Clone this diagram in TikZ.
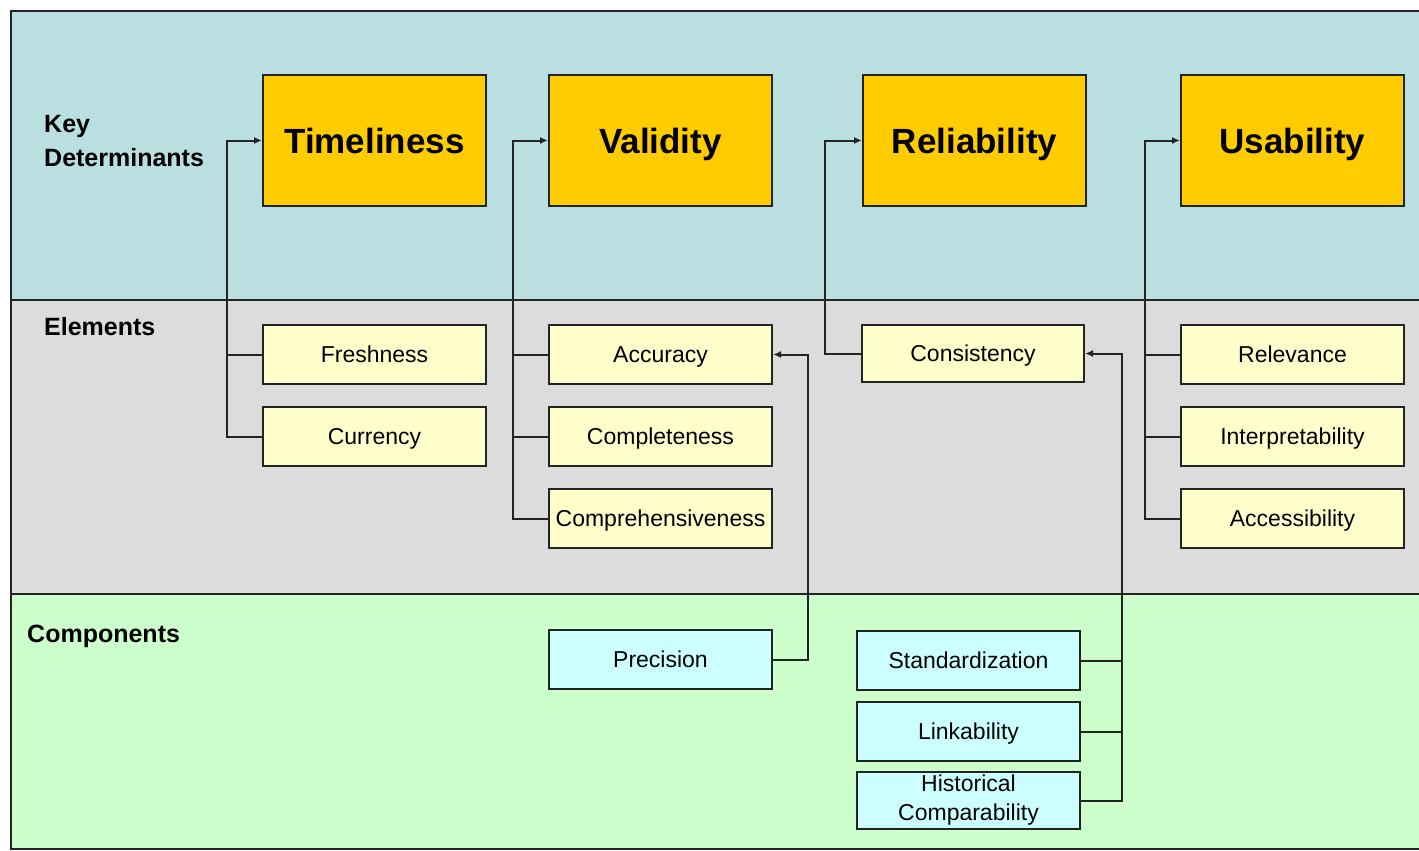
\documentclass[tikz,border=0pt]{standalone}
\usepackage{fontspec}
\setmainfont{Liberation Sans}
\usetikzlibrary{positioning,arrows.meta}

\definecolor{keyband}{RGB}{185,223,225}
\definecolor{elemband}{RGB}{220,220,220}
\definecolor{compband}{RGB}{204,255,204}
\definecolor{keyfill}{RGB}{255,204,0}
\definecolor{elemfill}{RGB}{255,255,204}
\definecolor{compfill}{RGB}{204,255,255}
\definecolor{linegray}{RGB}{35,35,35}

\begin{document}
\begin{tikzpicture}[
    x=1pt, y=-1pt,
    node distance=21pt,
    keybox/.style={rectangle, draw=linegray, line width=2pt, fill=keyfill, minimum width=223pt, minimum height=131pt, text height=25pt, text depth=0pt, font=\fontsize{35}{40}\selectfont\bfseries},
    elembox/.style={rectangle, draw=linegray, line width=2pt, fill=elemfill, minimum width=223pt, minimum height=59pt, inner sep=0pt, text height=16.5pt, text depth=0pt, font=\fontsize{23}{29}\selectfont},
    compbox/.style={elembox, fill=compfill},
    bandlabel/.style={anchor=north west, inner sep=0pt, align=left, font=\fontsize{25}{34}\selectfont\bfseries},
    link/.style={draw=linegray, line width=2pt},
    arrow/.style={link, -{Latex[length=8pt,width=7pt]}}
]
\useasboundingbox (0,0) rectangle (1419,851);

% bands
\fill[keyband] (11,11) rectangle (1419,300);
\fill[elemband] (11,300) rectangle (1419,594);
\fill[compband] (11,594) rectangle (1419,849);
\draw[link] (1419,11) -- (11,11) -- (11,849) -- (1419,849);
\draw[link] (11,300) -- (1419,300);
\draw[link] (11,594) -- (1419,594);

\node[bandlabel] (keylbl) at (44,115) {Key\\Determinants};
\node[bandlabel] (elemlbl) at (44,317) {Elements};
\node[bandlabel] (complbl) at (27,625) {Components};

% key determinants
\node[keybox] (time) at (374.5,140.5) {Timeliness};
\node[keybox] (valid) at (660.5,140.5) {Validity};
\node[keybox] (reli) at (974.5,140.5) {Reliability};
\node[keybox] (usab) at (1292.5,140.5) {Usability};

% elements
\node[elembox, below=117pt of time] (fresh) {Freshness};
\node[elembox, below=of fresh] (curr) {Currency};
\node[elembox, below=117pt of valid] (accu) {Accuracy};
\node[elembox, below=of accu] (compl) {Completeness};
\node[elembox, below=of compl] (compr) {Comprehensiveness};
\node[elembox, minimum width=222pt, minimum height=57pt] (cons) at (973,353.5) {Consistency};
\node[elembox, below=117pt of usab] (relev) {Relevance};
\node[elembox, below=of relev] (interp) {Interpretability};
\node[elembox, below=of interp] (access) {Accessibility};

% components
\node[compbox, below=80pt of compr] (prec) {Precision};
\node[compbox] (stand) at (968.5,660.5) {Standardization};
\node[compbox, below=10pt of stand] (linkab) {Linkability};
\node[compbox, below=9pt of linkab, minimum height=57pt, align=center, text height=, text depth=] (hist) {Historical\\Comparability};

% elements to determinants
\draw[arrow] (curr.west) -- ++(-35,0) |- (time.west);
\draw[link] (fresh.west) -- ++(-35,0);
\draw[arrow] (compr.west) -- ++(-35,0) |- (valid.west);
\draw[link] (accu.west) -- ++(-35,0);
\draw[link] (compl.west) -- ++(-35,0);
\draw[arrow] (cons.west) -- ++(-36,0) |- (reli.west);
\draw[arrow] (access.west) -- ++(-35,0) |- (usab.west);
\draw[link] (relev.west) -- ++(-35,0);
\draw[link] (interp.west) -- ++(-35,0);

% components to elements
\draw[arrow] (prec.east) -- ++(35,0) |- (accu.east);
\draw[arrow] (hist.east) -- ++(41,0) |- (cons.east);
\draw[link] (stand.east) -- ++(41,0);
\draw[link] (linkab.east) -- ++(41,0);
\end{tikzpicture}
\end{document}
